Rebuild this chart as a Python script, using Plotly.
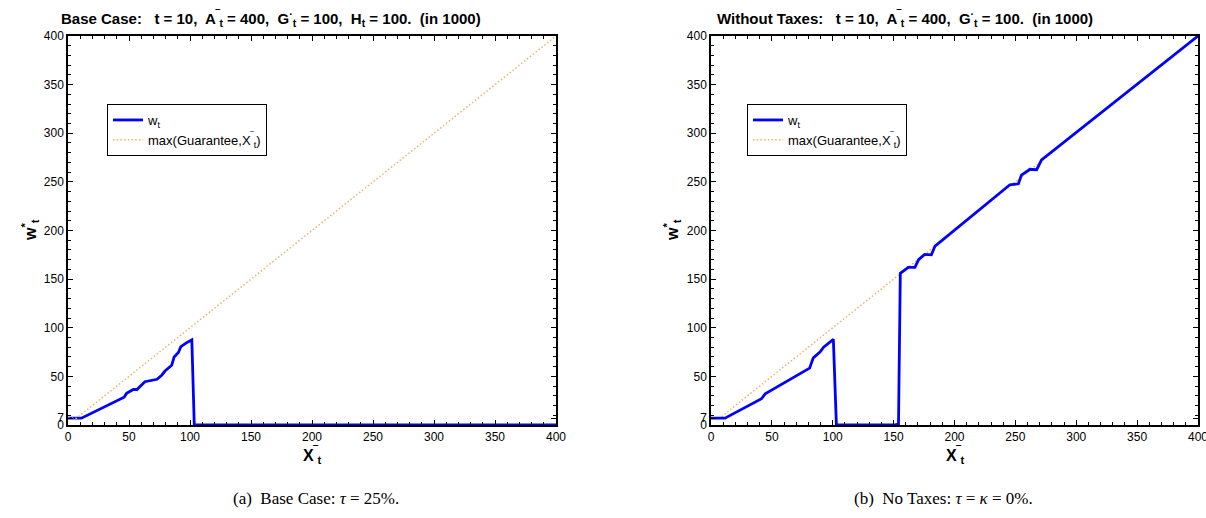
import plotly.graph_objects as go

# ---- data (in 1000) ----
left_x = [0, 11, 46, 48, 53.5, 56.5, 63, 68.5, 73, 77, 79.5, 85, 87, 90.5, 92.5, 97, 101.5, 103.5, 400]
left_w = [7, 7, 28.5, 32.5, 36.5, 36.5, 44.5, 46, 47, 51.5, 55.5, 61.5, 70, 74.5, 80.5, 84.5, 87.5, 0, 0]

right_x = [0, 11.5, 41.5, 44.5, 81, 84, 89.5, 92.5, 100.5, 103, 150, 152.5, 154, 155.5, 162, 167.5,
           170.5, 175.5, 181, 184, 245.5, 252.5, 255, 262, 267.5, 271.5, 400]
right_w = [7, 7, 27, 32, 58.5, 69, 75, 80, 88, 0, 0, 1, 1, 156, 162, 162,
           170, 175.5, 175, 184, 247, 248, 257, 263, 262.5, 272.5, 400]

guar_x = [0, 7, 400]
guar_y = [7, 7, 400]

x_ticks = [0, 50, 100, 150, 200, 250, 300, 350, 400]
y_ticks = [0, 7, 50, 100, 150, 200, 250, 300, 350, 400]

titles = [
    "<b>Base Case:\u00a0\u00a0 t = 10,\u00a0 A<sup>‾</sup><sub>t</sub> = 400,\u00a0 G<sup>·</sup><sub>t</sub> = 100,\u00a0 H<sub>t</sub> = 100.\u00a0 (in 1000)</b>",
    "<b>Without Taxes:\u00a0\u00a0 t = 10,\u00a0 A<sup>‾</sup><sub>t</sub> = 400,\u00a0 G<sup>·</sup><sub>t</sub> = 100.\u00a0 (in 1000)</b>",
]
captions = ["(a)\u00a0 Base Case: <i>τ</i> = 25%.", "(b)\u00a0 No Taxes: <i>τ</i> = <i>κ</i> = 0%."]

W, H = 1206, 518
BLUE = "#0000ff"
ORANGE = "rgb(236,178,104)"
FONT = "Liberation Sans, Arial, sans-serif"
DOT = "1.5px,2.2px"

fig = go.Figure()

# left
fig.add_trace(go.Scatter(x=left_x, y=left_w, mode="lines", name="w<sub>t</sub>",
                         line=dict(color=BLUE, width=2.8), xaxis="x", yaxis="y", legend="legend"))
fig.add_trace(go.Scatter(x=guar_x, y=guar_y, mode="lines", name="max(Guarantee,X<sup>‾</sup><sub>t</sub>)",
                         line=dict(color=ORANGE, width=1.5, dash=DOT), xaxis="x", yaxis="y", legend="legend"))
# right
fig.add_trace(go.Scatter(x=guar_x, y=guar_y, mode="lines", name="max(Guarantee,X<sup>‾</sup><sub>t</sub>)",
                         line=dict(color=ORANGE, width=1.5, dash=DOT), xaxis="x2", yaxis="y2", legend="legend2",
                         legendrank=2))
fig.add_trace(go.Scatter(x=right_x, y=right_w, mode="lines", name="w<sub>t</sub>",
                         line=dict(color=BLUE, width=2.8), xaxis="x2", yaxis="y2", legend="legend2",
                         legendrank=1))

def px(v):
    return v / W

def py(v):
    return 1 - v / H

axis_common = dict(
    showline=True, linecolor="black", linewidth=1.5, mirror="ticks",
    ticks="inside", ticklen=5, tickcolor="black", tickwidth=1,
    showgrid=False, zeroline=False, automargin=False, ticklabeloverflow="allow",
    tickfont=dict(family=FONT, size=12, color="black"),
    minor=dict(ticks="inside", ticklen=3, dtick=10, tick0=0, tickcolor="black", showgrid=False),
)

ydom = [py(425), py(36)]
fig.update_layout(
    template="none",
    xaxis=dict(domain=[px(68), px(556)], range=[0, 400], tickmode="array", tickvals=x_ticks,
               anchor="y", **axis_common),
    yaxis=dict(domain=ydom, range=[0, 400], tickmode="array", tickvals=y_ticks,
               anchor="x", **axis_common),
    xaxis2=dict(domain=[px(711), px(1198)], range=[0, 400], tickmode="array", tickvals=x_ticks,
                anchor="y2", **axis_common),
    yaxis2=dict(domain=ydom, range=[0, 400], tickmode="array", tickvals=y_ticks,
                anchor="x2", **axis_common),
)

legend_common = dict(
    bgcolor="white", bordercolor="black", borderwidth=1,
    font=dict(family=FONT, size=13, color="black"),
    xanchor="left", yanchor="top", tracegroupgap=0, itemwidth=30,
)
fig.update_layout(
    legend=dict(x=px(107), y=py(104), **legend_common),
    legend2=dict(x=px(747), y=py(104), **legend_common),
)

ann = []
for cx, t in zip([271, 905], titles):
    ann.append(dict(x=px(cx), y=py(18), xref="paper", yref="paper", text=t, showarrow=False,
                    xanchor="center", yanchor="middle", font=dict(family=FONT, size=15, color="black")))
for cx, t in zip([316, 943], captions):
    ann.append(dict(x=px(cx), y=py(498), xref="paper", yref="paper", text=t, showarrow=False,
                    xanchor="center", yanchor="middle",
                    font=dict(family="Liberation Serif, Times New Roman, serif", size=17, color="black")))
for cx in [312, 955]:
    ann.append(dict(x=px(cx), y=py(455), xref="paper", yref="paper", text="<b>X<sup>‾</sup><sub>t</sub></b>",
                    showarrow=False, xanchor="center", yanchor="middle",
                    font=dict(family=FONT, size=16, color="black")))
for cx in [30, 672]:
    ann.append(dict(x=px(cx), y=py(230), xref="paper", yref="paper", text="<b>w<sup>*</sup><sub>t</sub></b>",
                    showarrow=False, xanchor="center", yanchor="middle", textangle=-90,
                    font=dict(family=FONT, size=16, color="black")))

fig.update_layout(
    annotations=ann,
    width=W, height=H,
    margin=dict(l=0, r=0, t=0, b=0, pad=0, autoexpand=False),
    paper_bgcolor="white", plot_bgcolor="white",
    showlegend=True,
)

fig.write_html("out.html", config={"displayModeBar": False},
               post_script="document.body.style.margin='0';document.body.style.overflow='hidden';")
